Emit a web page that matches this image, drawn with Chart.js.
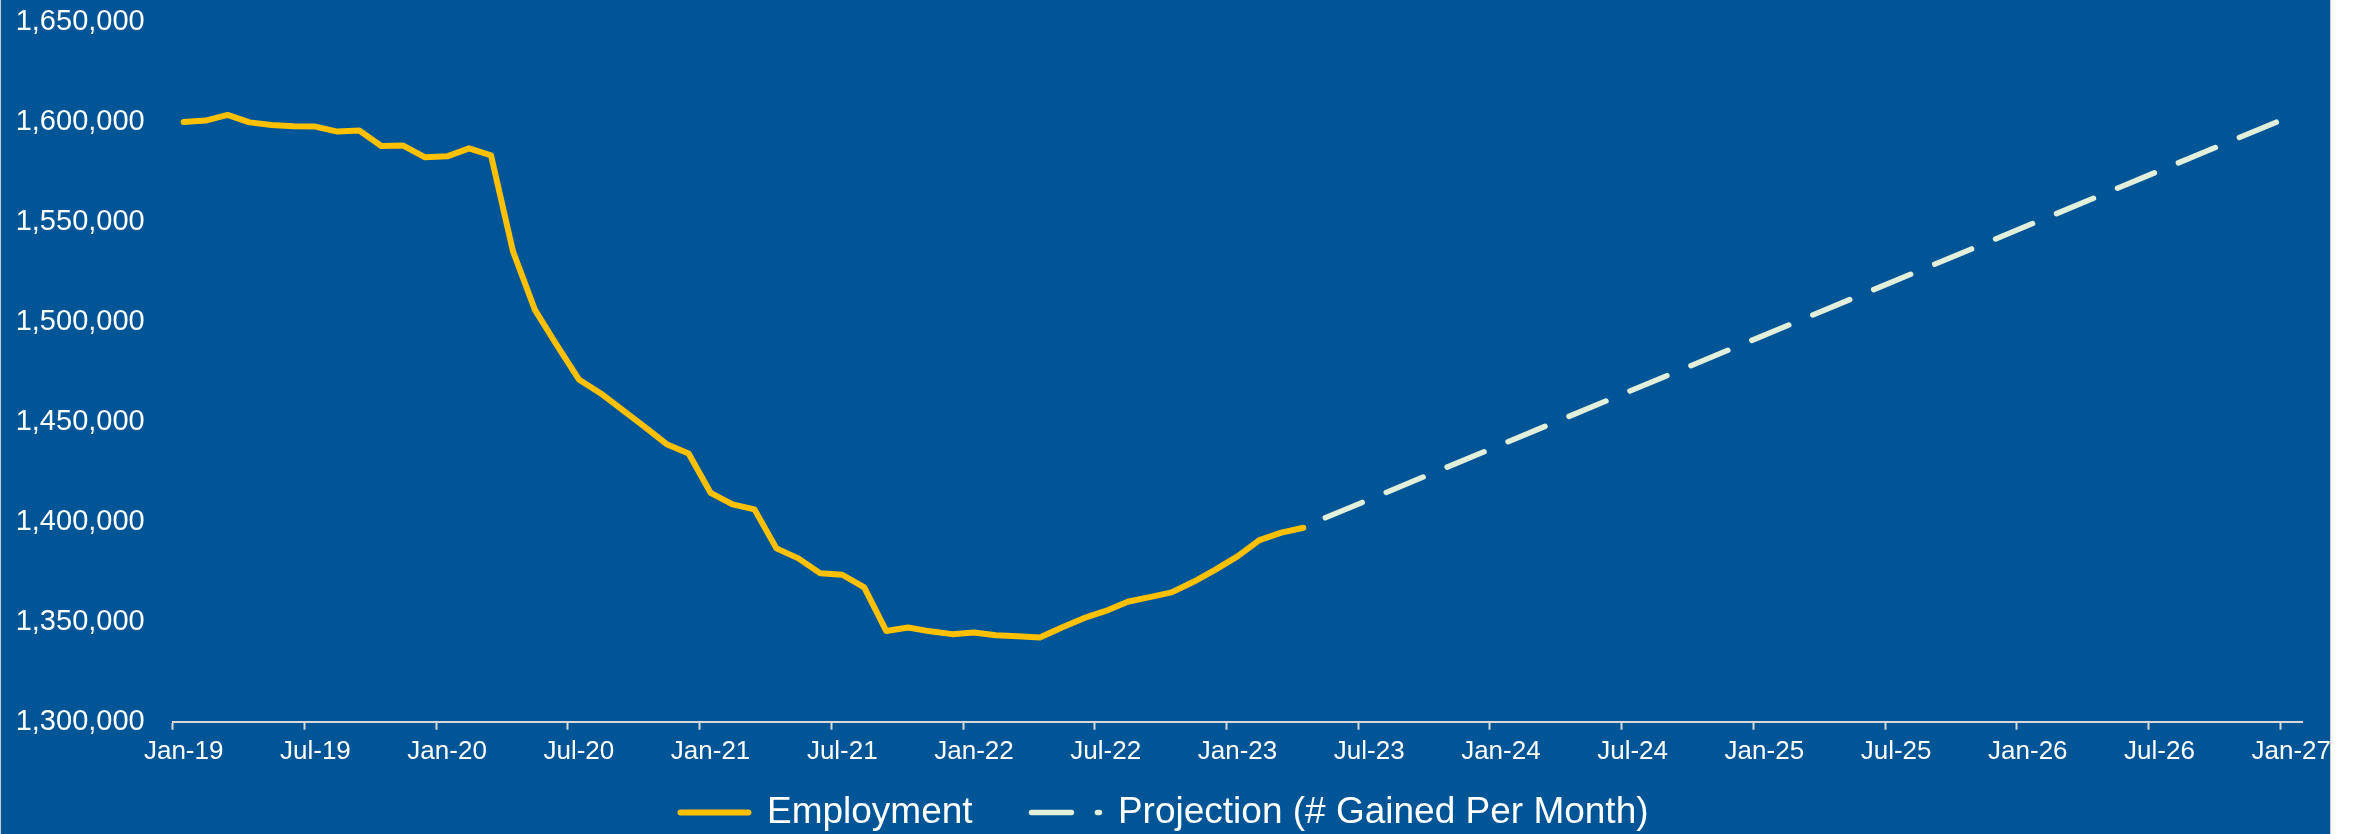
<!DOCTYPE html>
<html>
<head>
<meta charset="utf-8">
<script src="https://cdn.jsdelivr.net/npm/chart.js@4.4.1/dist/chart.umd.min.js"></script>
<style>
    html, body { margin: 0; padding: 0; background: #ffffff; overflow: hidden; }
    #wrap { width: 2329px; height: 841px; background: #005596; border-left: 1px solid #c8ccd2; border-right: 1px solid #c8ccd2; overflow: hidden; }
    canvas { display: block; }
</style>
</head>
<body>
<div id="wrap"><canvas id="employmentChart" width="2337" height="841"></canvas></div>
<script>
        // Month categories Jan-19 .. Jan-27
        const monthNames = ["Jan", "Feb", "Mar", "Apr", "May", "Jun", "Jul", "Aug", "Sep", "Oct", "Nov", "Dec"];
        const years = ["19", "20", "21", "22", "23", "24", "25", "26", "27"];
        const months = [];
        years.forEach(yr => monthNames.forEach(m => months.push(m + "-" + yr)));
        months.splice(months.indexOf("Jan-27") + 1);

        // Employment, Jan-19 .. Apr-23
        const employment = [
            1600000, 1600700, 1603500, 1599800, 1598500, 1597800, 1597700, 1595200, 1595700, 1588000, 1588200, 1582300,
            1582800, 1586800, 1583300, 1535300, 1506000, 1488300, 1471200, 1464200, 1455800, 1447500, 1438800, 1434200,
            1414500, 1408700, 1406200, 1386700, 1381700, 1374200, 1373500, 1367200, 1345400, 1347100, 1345200, 1343800,
            1344600, 1343200, 1342700, 1342100, 1347100, 1351800, 1355400, 1360000, 1362300, 1364700, 1370000, 1376100,
            1382700, 1390800, 1394600, 1397000
        ];

        // Projection: straight line between its two end points
        const projectionMonths = ["May-23", "Jan-27"];
        const projectionValues = [1402000, 1603000];

        // Y-axis ticks
        const yMin = 1300000;
        const yMax = 1650000;
        const yStep = 50000;

        const fontFamily = '"Liberation Sans", Arial, sans-serif';
        const axisGrey = '#D9D9D9';

        // small nudge of the legend row
        const legendShift = {
            id: 'legendShift',
            afterLayout(chart) {
                chart.legend.left -= 5;
                chart.legend.right -= 5;
            }
        };

        const ctx = document.getElementById('employmentChart').getContext('2d');
        const employmentChart = new Chart(ctx, {
            type: 'line',
            data: {
                labels: months,
                datasets: [
                    {
                        label: 'Employment',
                        data: employment,
                        borderColor: '#FFC000',
                        backgroundColor: '#FFC000',
                        borderWidth: 6,
                        borderCapStyle: 'round',
                        borderJoinStyle: 'round',
                        pointRadius: 0,
                        pointHoverRadius: 0,
                        tension: 0
                    },
                    {
                        label: 'Projection (# Gained Per Month)',
                        data: projectionMonths.map((m, i) => ({ x: m, y: projectionValues[i] })),
                        borderColor: '#E2EFDA',
                        backgroundColor: '#E2EFDA',
                        borderWidth: 5.5,
                        borderDash: [40, 26],
                        borderCapStyle: 'round',
                        pointRadius: 0,
                        pointHoverRadius: 0,
                        tension: 0
                    }
                ]
            },
            plugins: [legendShift],
            options: {
                responsive: false,
                animation: false,
                layout: {
                    padding: { left: 0, right: 0, top: 22, bottom: 0 }
                },
                plugins: {
                    tooltip: { enabled: false },
                    legend: {
                        position: 'bottom',
                        labels: {
                            color: '#FFFFFF',
                            font: { family: fontFamily, size: 37 },
                            usePointStyle: true,
                            pointStyleWidth: 68,
                            padding: 28,
                            generateLabels: chart => chart.data.datasets.map((ds, i) => ({
                                // trailing spaces widen the gap between the two entries
                                text: i === 0 ? ds.label + '   ' : ds.label,
                                fontColor: '#FFFFFF',
                                fillStyle: ds.borderColor,
                                strokeStyle: ds.borderColor,
                                lineWidth: ds.borderWidth,
                                lineDash: ds.borderDash || [],
                                lineCap: 'round',
                                pointStyle: 'line',
                                rotation: 180,
                                hidden: false,
                                datasetIndex: i
                            }))
                        }
                    }
                },
                scales: {
                    x: {
                        type: 'category',
                        offset: true,
                        afterFit: scale => { scale.height = 44.3; },
                        border: { display: true, color: axisGrey, width: 2 },
                        grid: {
                            offset: true,
                            drawOnChartArea: false,
                            drawTicks: true,
                            tickLength: 8,
                            tickWidth: 2,
                            tickColor: c => (c.index !== undefined && c.index % 6 === 0) ? axisGrey : 'rgba(0,0,0,0)'
                        },
                        ticks: {
                            autoSkip: false,
                            maxRotation: 0,
                            minRotation: 0,
                            padding: 7,
                            color: '#FFFFFF',
                            font: { family: fontFamily, size: 26 },
                            callback: function (value, index) {
                                return index % 6 === 0 ? this.getLabelForValue(value) : '';
                            }
                        }
                    },
                    y: {
                        min: yMin,
                        max: yMax,
                        afterFit: scale => { scale.width = 171.7; },
                        border: { display: false },
                        // grid hidden; tickLength only sets the gap before the labels
                        grid: { display: false, drawTicks: true, tickLength: 28 },
                        ticks: {
                            stepSize: yStep,
                            padding: 0,
                            color: '#FFFFFF',
                            font: { family: fontFamily, size: 29 },
                            callback: value => value.toLocaleString('en-US')
                        }
                    }
                }
            }
        });
</script>
</body>
</html>
